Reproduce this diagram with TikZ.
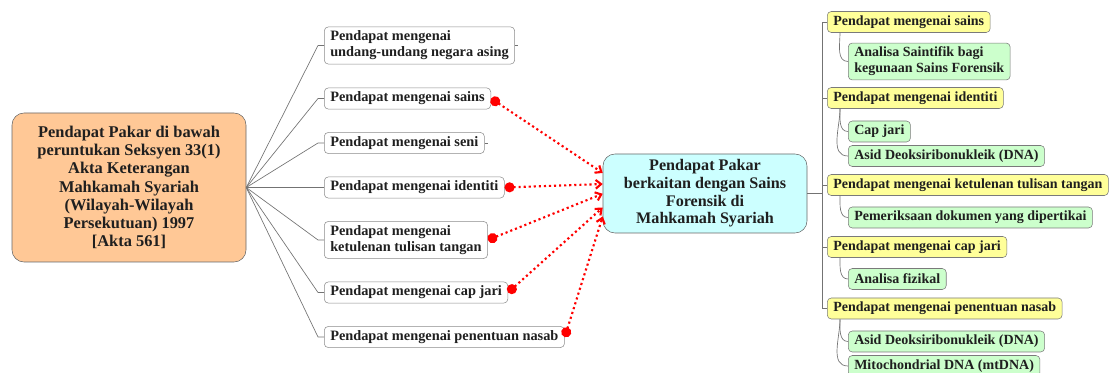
\documentclass[tikz,border=0pt]{standalone}
\usepackage{fontspec}
\setmainfont{Liberation Serif}
\usepackage{xcolor}
\usetikzlibrary{arrows.meta}
\definecolor{boxorange}{HTML}{FFC896}
\definecolor{boxcyan}{HTML}{CCFFFF}
\definecolor{boxyellow}{HTML}{FFFF99}
\definecolor{boxgreen}{HTML}{CCFFCC}
\definecolor{linegray}{HTML}{7A7A7A}

\begin{document}
\begin{tikzpicture}[x=0.75pt,y=-0.75pt,
  every node/.style={font=\fontsize{10.5}{12}\selectfont\bfseries,text=black!88},
  opbox/.style={draw=linegray,rounded corners=3pt,inner xsep=4.5pt,inner ysep=3pt,minimum height=15.75pt,anchor=west,align=left},
  whitebox/.style={opbox,fill=white,draw=black!45,font=\fontsize{10.75}{12}\selectfont\bfseries},
  yellowbox/.style={opbox,fill=boxyellow},
  greenbox/.style={opbox,fill=boxgreen},
  fan/.style={draw=black!55,line width=0.5pt},
  dotlink/.style={red,line width=1.6pt,dash pattern=on 1.6pt off 2.2pt,{Circle[length=7.5pt]}-{Straight Barb[length=4pt,width=6.5pt]}}]
  \useasboundingbox (0,0) rectangle (1110,373);

  \node[draw=black!60,fill=boxorange,rounded corners=9pt,minimum width=175.5pt,minimum height=111.75pt,align=center,
        font=\fontsize{12.3}{13.6}\selectfont\bfseries] (lb) at (129,187.5)
    {Pendapat Pakar di bawah\\peruntukan Seksyen 33(1)\\Akta Keterangan\\Mahkamah Syariah\\(Wilayah-Wilayah\\Persekutuan) 1997\\{[Akta 561]}};

  \node[whitebox] (c1) at (324,45.5) {Pendapat mengenai\\undang-undang negara asing};
  \node[whitebox] (c2) at (324,98.5) {Pendapat mengenai sains};
  \node[whitebox] (c3) at (324,143) {Pendapat mengenai seni};
  \node[whitebox] (c4) at (324,187.5) {Pendapat mengenai identiti};
  \node[whitebox] (c5) at (324,240) {Pendapat mengenai\\ketulenan tulisan tangan};
  \node[whitebox] (c6) at (324,292.5) {Pendapat mengenai cap jari};
  \node[whitebox] (c7) at (324,337) {Pendapat mengenai penentuan nasab};

  \foreach \c in {c1,c2,c3,c4,c5,c6,c7}
    \draw[fan] (lb.east) -- ([xshift=-4.5pt]\c.west) -- (\c.west);
  \draw[fan] (c1.east) -- ++(3,0);
  \draw[fan] (c3.east) -- ++(3,0);

  \node[draw=black!60,fill=boxcyan,rounded corners=9pt,minimum width=153pt,minimum height=59.25pt,align=center,
        font=\fontsize{12.1}{13.3}\selectfont\bfseries] (cn) at (705,193.5)
    {Pendapat Pakar\\berkaitan dengan Sains\\Forensik di\\Mahkamah Syariah};

  \draw[dotlink] (c2.east) -- ([yshift=15.4pt]cn.west);
  \draw[dotlink] (c4.east) -- ([yshift=7.1pt]cn.west);
  \draw[dotlink] (c5.east) -- ([yshift=-0.2pt]cn.west);
  \draw[dotlink] (c6.east) -- ([yshift=-10.5pt]cn.west);
  \draw[dotlink] (c7.east) -- ([yshift=-17.2pt]cn.west);

  \node[yellowbox] (y1) at (827,22) {Pendapat mengenai sains};
  \node[greenbox]  (g1) at (848,61.5) {Analisa Saintifik bagi\\kegunaan Sains Forensik};
  \node[yellowbox] (y2) at (827,98) {Pendapat mengenai identiti};
  \node[greenbox]  (g2) at (848,131.5) {Cap jari};
  \node[greenbox]  (g3) at (848,156) {Asid Deoksiribonukleik (DNA)};
  \node[yellowbox] (y3) at (827,185) {Pendapat mengenai ketulenan tulisan tangan};
  \node[greenbox]  (g4) at (848,217.5) {Pemeriksaan dokumen yang dipertikai};
  \node[yellowbox] (y4) at (827,247) {Pendapat mengenai cap jari};
  \node[greenbox]  (g5) at (848,279) {Analisa fizikal};
  \node[yellowbox] (y5) at (827,308.5) {Pendapat mengenai penentuan nasab};
  \node[greenbox]  (g6) at (848,341.5) {Asid Deoksiribonukleik (DNA)};
  \node[greenbox]  (g7) at (848,366) {Mitochondrial DNA (mtDNA)};

  \draw[fan] (cn.east) -- ++(15,0);
  \draw[fan] (y1.west) -- ++(-5,0) |- (y5.west);
  \foreach \y in {y2,y3,y4}
    \draw[fan] (\y.west) -- ++(-5,0);

  \foreach \y/\g in {y1/g1,y2/g2,y2/g3,y3/g4,y4/g5,y5/g6,y5/g7}
    \draw[fan] ([xshift=9.75pt]\y.south west) to[out=-90,in=180] (\g.west);
\end{tikzpicture}
\end{document}
